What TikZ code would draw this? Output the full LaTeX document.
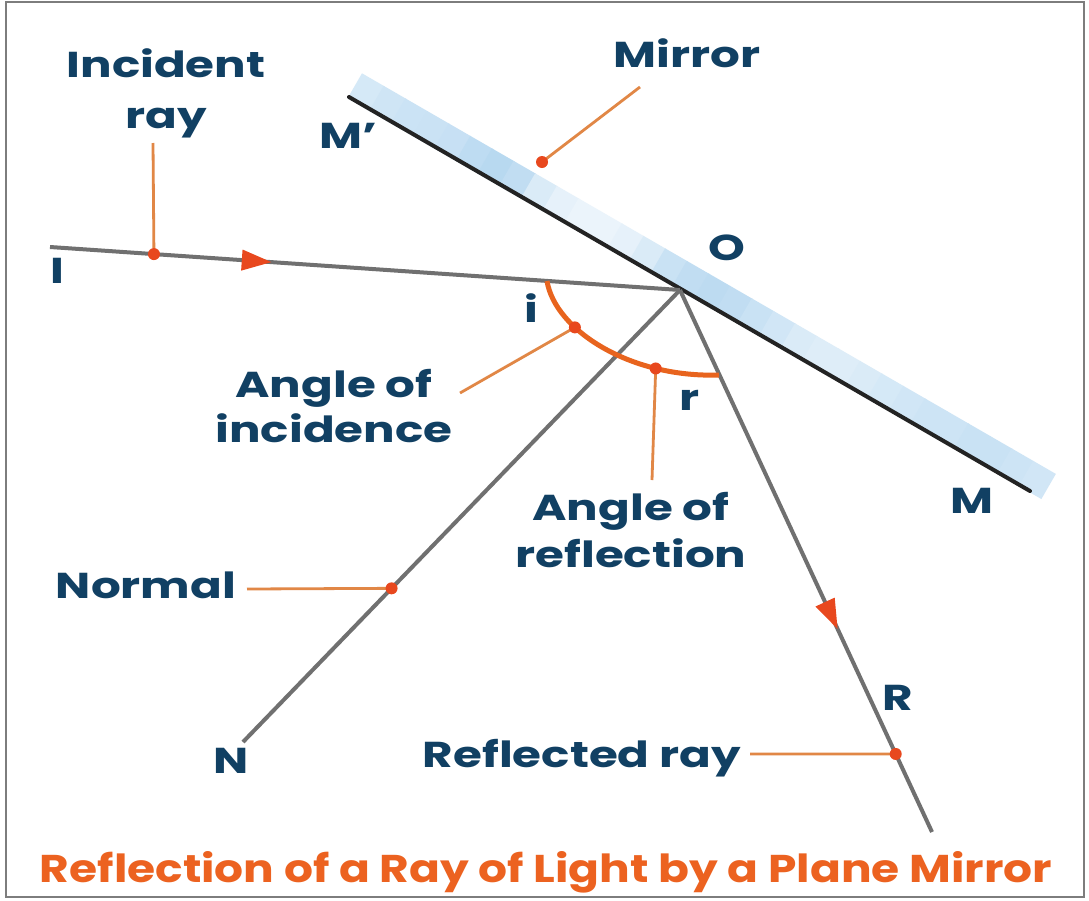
\documentclass[tikz,border=0pt]{standalone}
\usepackage{fontspec}
\newfontfamily\labfont{Poppins}[FakeStretch=1.3]
\usetikzlibrary{arrows.meta,decorations.markings,calc}
\definecolor{txtblue}{RGB}{17,64,99}
\definecolor{leadcol}{RGB}{225,135,70}
\definecolor{dotcol}{RGB}{232,72,30}
\definecolor{arccol}{RGB}{232,100,30}
\definecolor{raycol}{RGB}{112,112,112}
\definecolor{mirrcol}{RGB}{35,35,35}
\definecolor{bandcol}{RGB}{172,210,238}
\definecolor{framecol}{RGB}{125,125,125}
\definecolor{capcol}{RGB}{236,98,32}
\tikzset{
  lab/.style={text=txtblue, font=\labfont\bfseries\fontsize{36}{40}\selectfont, inner sep=0pt, anchor=base},
  ray/.style={draw=raycol, line width=4pt},
  mirrline/.style={draw=mirrcol, line width=4pt, line cap=round},
  leader/.style={draw=leadcol, line width=2.8pt},
  hotdot/.style={fill=dotcol},
  arctrace/.style={draw=arccol, line width=5pt},
  headmark/.style={postaction=decorate, decoration={markings, mark=at position #1 with {\arrow{Triangle[length=30pt,width=20pt,color=dotcol]}}}}
}
\begin{document}
\begin{tikzpicture}[x=1pt,y=-1pt]
\useasboundingbox (0,0) rectangle (1089,900);
\fill[white] (0,0) rectangle (1089,900);
\draw[framecol, line width=2pt] (6,2) rectangle (1084,897);

% key points
\coordinate (O) at (680,290);
\coordinate (Ip) at (50,247);
\coordinate (Np) at (243,742);
\coordinate (Rp) at (932,832);
\coordinate (Ms) at (349,97);
\coordinate (Me) at (1030,491);

% mirror band (strips of varying tint along the mirror)
\begin{scope}[shift={(Ms)}, rotate=-30]
  \foreach \p [count=\k from 0] in {50,58,62,64,68,78,85,75,45,30,24,24,30,45,65,75,80,75,65,55,45,40,40,45,50,55,60,60,65,65,60,55}
    \fill[bandcol!\p!white] ({\k*25-0.6},2) rectangle ({\k*25+25.6},-27);
\end{scope}
\draw[mirrline] (Ms) -- (Me);

% rays
\draw[ray] (O) -- (Np);
\draw[ray, headmark=0.352] (Ip) -- (O);
\draw[ray, headmark=0.626] (O) -- (Rp);

% angle arc
\draw[arctrace] (547,281) .. controls (555,330) and (630,378) .. (719,375)
  coordinate[pos=0.33] (ai) coordinate[pos=0.75] (ar);

% marker points
\coordinate (di) at ($(Ip)!0.165!(O)$);
\coordinate (dn) at ($(O)!0.66!(Np)$);
\coordinate (dr) at ($(O)!0.856!(Rp)$);
\coordinate (dm) at (542,162);

% leader line starts
\coordinate (li) at (153,143);
\coordinate (lm) at (640,87);
\coordinate (lai) at (460,393);
\coordinate (lar) at (652,480);
\coordinate (ln) at (247,589);
\coordinate (lr) at (750,754);

\draw[leader] (li) -- (di);
\draw[leader] (lm) -- (dm);
\draw[leader] (lai) -- (ai);
\draw[leader] (lar) -- (ar);
\draw[leader] (ln) -- (dn);
\draw[leader] (lr) -- (dr);

\foreach \p in {di,dm,ai,ar,dn,dr} \fill[hotdot] (\p) circle (6);

% labels
\node[lab] (t1) at (166,77) {Incident};
\node[lab] (t2) at (166,128) {ray};
\node[lab] (tm) at (687,67) {Mirror};
\node[lab] (tmp) at (348,148) {M\textquoteright};
\node[lab] (to) at (727,260) {O};
\node[lab] (tI) at (57,283) {I};
\node[lab] (ti) at (531,322) {i};
\node[lab] (tr) at (690,410) {r};
\node[lab] (tM) at (972,513) {M};
\node[lab] (ta1) at (334,397) {Angle of};
\node[lab] (ta2) at (334,442) {incidence};
\node[lab] (tb1) at (631,520) {Angle of};
\node[lab] (tb2) at (631,567) {reflection};
\node[lab] (tn) at (146,598) {Normal};
\node[lab] (tN) at (231,773) {N};
\node[lab] (tR) at (898,710) {R};
\node[lab] (trr) at (582,767) {Reflected ray};
\node[inner sep=0pt, anchor=base, text=capcol] (cap) at (546,882)
  {\resizebox{1012pt}{31pt}{\labfont\bfseries Reflection of a Ray of Light by a Plane Mirror}};
\end{tikzpicture}
\end{document}
